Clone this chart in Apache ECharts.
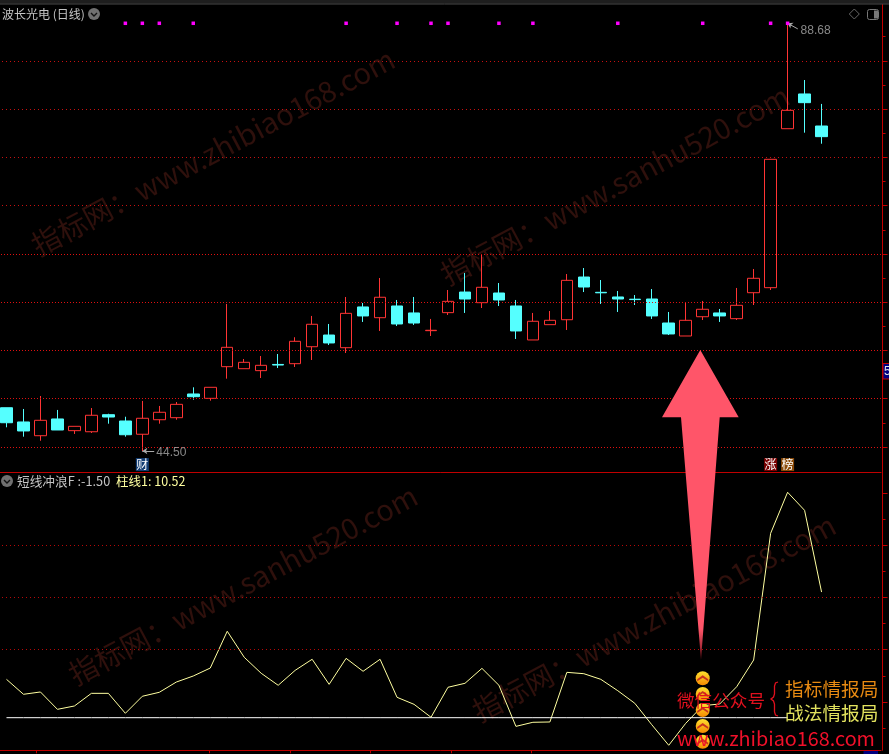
<!DOCTYPE html>
<html><head><meta charset="utf-8">
<style>html,body{margin:0;padding:0;background:#000}#c{width:889px;height:754px}</style>
<script src="https://cdn.jsdelivr.net/npm/echarts@6/dist/echarts.min.js"></script>
</head><body><div id="c"></div>
<script>
// [open, close, low, high]
const candles = [
[48.97,47.42,46.95,48.97],[47.50,46.57,45.98,48.84],[46.08,47.67,45.56,50.18],[47.81,46.67,46.67,48.74],
[46.60,47.05,46.26,47.05],[46.49,48.19,46.36,48.94],[48.25,48.01,47.32,48.35],[47.60,46.18,45.98,48.04],
[46.23,47.88,44.50,49.67],[47.73,48.50,47.32,49.15],[47.94,49.32,47.73,49.56],[50.39,50.11,49.80,51.08],
[49.94,51.08,49.70,51.08],[53.21,55.21,51.97,59.69],[53.00,53.66,53.00,54.00],[52.80,53.35,52.04,54.31],
[53.44,53.38,53.07,54.52],[53.52,55.83,53.18,56.25],[55.27,57.59,53.90,58.45],[56.48,55.66,55.45,57.62],
[55.17,58.72,54.62,60.41],[59.38,58.45,57.83,59.79],[58.27,60.38,56.90,62.37],[59.48,57.62,57.41,60.10],
[58.76,57.72,57.52,60.41],[56.93,56.97,56.38,58.14],[58.79,59.96,58.55,61.13],[60.92,60.20,58.76,62.89],
[59.82,61.41,59.27,64.75],[60.82,60.10,59.48,61.85],[59.48,56.90,56.07,60.10],[55.97,57.90,55.97,58.76],
[57.55,58.00,57.55,58.96],[58.06,62.13,57.00,62.78],[62.47,61.44,60.92,63.40],[60.89,60.84,59.69,62.16],
[60.41,60.20,58.86,61.03],[60.18,60.14,59.58,60.61],[60.20,58.45,58.14,61.23],[57.72,56.59,56.48,58.86],
[56.38,58.00,56.38,59.79],[58.37,59.14,58.03,60.00],[58.76,58.45,57.83,59.17],[58.17,59.55,58.03,61.34],
[60.85,62.34,59.58,63.30],[61.37,74.63,61.13,74.63],[77.79,79.69,77.79,88.68],[81.38,80.48,77.38,82.82],
[78.07,76.97,76.24,80.35]];
const categories = ['D1','D2','D3','D4','D5','D6','D7','D8','D9','D10','D11','D12','D13','D14','D15','D16','D17','D18','D19','D20','D21','D22','D23','D24','D25','D26','D27','D28','D29','D30','D31','D32','D33','D34','D35','D36','D37','D38','D39','D40','D41','D42','D43','D44','D45','D46','D47','D48','D49','D50','D51','D52'];
const surfLine = [2.17,0.74,0.96,-0.70,-0.38,0.83,0.83,-1.08,0.55,0.93,1.91,2.49,3.25,6.77,4.28,2.75,1.60,3.03,4.09,1.69,4.18,2.94,4.09,0.45,-0.22,-1.46,1.41,1.79,3.22,1.60,-2.33,-1.94,-1.91,2.84,2.71,2.17,1.08,-0.12,-2.17,-4.14,-2.04,-0.35,-0.19,1.46,4.02,16.14,20.07,18.34,10.52];
const baseLine = [-1.5,-1.5,-1.5,-1.5,-1.5,-1.5,-1.5,-1.5,-1.5,-1.5,-1.5,-1.5,-1.5,-1.5,-1.5,-1.5,-1.5,-1.5,-1.5,-1.5,-1.5,-1.5,-1.5,-1.5,-1.5,-1.5,-1.5,-1.5,-1.5,-1.5,-1.5,-1.5,-1.5,-1.5,-1.5,-1.5,-1.5,-1.5,-1.5,-1.5,-1.5,-1.5,-1.5,-1.5,-1.5,-1.5,-1.5];
const gridPrices = [84.73,79.77,74.82,69.86,64.80,59.84,54.88,49.92,44.86];
const minorPrices = [87.30,82.25,77.30,72.34,67.33,62.32,57.36,52.40,47.39];
const lowerGrid = [5.02,10,14.98];
const lowerMajor = [20,14.98,10,5.02,0];
const lowerMinor = [17.5,12.5,7.5,2.5,-2.5];
const markerIdx = [7,8,9,11,20,23,25,26,29,31,36,41,45,46];
const markerPrice = 88.68;
const coinLevels = [2.27,0.77,-0.77,-2.30,-3.80];
const coinIdx = 41;
const badges = [{i:8,t:'财',c:'#123c72'},{i:45,t:'涨',c:'#7a0000'},{i:46,t:'榜',c:'#8a4a08'}];
const badgeLevel = 43.1;
const bottomTicks = [2.24,12.43,17.2,21.95,26.68,31.4];
const priceMax = 90.62, priceMin = 42.30, oscMax = 21.98, oscMin = -4.62;
const high = [46.5,88.68], low = [8.5,44.50];

const RED='#ff3434', CYAN='#55ffff', AXIS='#c00000', DOT='#c81010';
const CJK='"Noto Sans CJK SC","Liberation Sans",sans-serif';
const WM='#2f100c';
const chart = echarts.init(document.getElementById('c'),null,{width:889,height:754});
function wm(t,x,y,rot){return {type:'text',z:-1,x:x,y:y,rotation:rot*Math.PI/180,style:{text:t,fill:WM,font:'29px '+CJK,textAlign:'center',textVerticalAlign:'middle'}};}
function tx(t,x,y,c,size,align,fam){return {type:'text',z:100,x:x,y:y,style:{text:t,fill:c,font:size+'px '+(fam||CJK),textAlign:align||'left',textVerticalAlign:'middle'}};}
function chev(x,y){return [
 {type:'circle',z:100,shape:{cx:x,cy:y,r:6},style:{fill:'#707070'}},
 {type:'polyline',z:101,shape:{points:[[x-3,y-1],[x,y+2],[x+3,y-1]]},style:{stroke:'#111',lineWidth:1.4,fill:null}}];}
const graphics=[
 {type:'rect',z:100,shape:{x:0,y:0,width:889,height:3.5},style:{fill:'#1e1e1e'}},
 {type:'line',z:100,shape:{x1:0,y1:4,x2:889,y2:4},style:{stroke:'#4a4a4a',lineWidth:1}},
 wm('指标网：www.zhibiao168.com',213,152,28),
 wm('指标网：www.sanhu520.com',615,185,28),
 wm('指标网：www.sanhu520.com',243,585,28),
 wm('指标网：www.zhibiao168.com',654,618,28),
 tx('波长光电 (日线)',2,14,'#c4c4c4',12),
 ...chev(94,14),
 tx('短线冲浪F :-1.50',17,481,'#c4c4c4',12.7),
 tx('柱线1: 10.52',116,481,'#ffffa0',12.5),
 ...chev(7,481),
 {type:'polygon',z:100,shape:{points:[[854.3,9],[859.3,14],[854.3,19],[849.3,14]]},style:{fill:null,stroke:'#666',lineWidth:1}},
 {type:'rect',z:100,shape:{x:867.5,y:9.5,width:11,height:10,r:2},style:{fill:null,stroke:'#777',lineWidth:1}},
 {type:'rect',z:100,shape:{x:874,y:10.5,width:4,height:8},style:{fill:'#777'}},
 {type:'rect',z:100,shape:{x:883,y:363.5,width:8,height:15.5},style:{fill:'#000080',stroke:'#c00000',lineWidth:1}},
 tx('5',884,371.5,'#e0e0e0',12,'left','"Liberation Sans"'),
 {type:'rect',z:100,shape:{x:863.5,y:751,width:14.5,height:4},style:{fill:'#000080'}},
 {type:'polygon',z:99,shape:{points:[[700.3,350],[738.7,417.3],[719.7,417.3],[701,660],[681,417.3],[662,417.3]]},
  style:{fill:{type:'linear',x:0,y:0,x2:0,y2:1,colorStops:[{offset:0,color:'#ff5569'},{offset:0.9,color:'#ff5569'},{offset:1,color:'#701018'}]}}},
 tx('微信公众号',677,700,'#e0101e',17.6),
 {type:'polyline',z:100,shape:{points:[[778,682],[775.5,683],[774.5,686],[774.5,694],[773.5,697],[771,699],[773.5,701],[774.5,704],[774.5,712],[775.5,715],[778,716]]},style:{stroke:'#e0101e',fill:null,lineWidth:1.3}},
 tx('指标情报局',785,689,'#e88a12',18.7),
 tx('战法情报局',785,713,'#e2e25e',18.7),
 tx('www.zhibiao168.com',677,738,'#f0102a',19.8,'left','"Noto Sans CJK SC"')
];
const noLabel={show:false};
const lineOff={onZero:false,lineStyle:{color:AXIS}};
chart.setOption({
 animation:false, backgroundColor:'#000',
 grid:[{left:-2,top:4.5,width:883,height:467.8,outerBoundsMode:'none'},{left:-2,top:472.3,width:883,height:278,outerBoundsMode:'none'}],
 xAxis:[
  {type:'category',gridIndex:0,data:categories,axisLine:lineOff,axisTick:{show:false},axisLabel:noLabel,splitLine:{show:false}},
  {type:'category',gridIndex:1,data:categories,axisLine:lineOff,axisTick:{show:false},axisLabel:noLabel,splitLine:{show:false}},
  {type:'value',gridIndex:1,min:0,max:52,position:'bottom',axisLine:{show:false,onZero:false},axisTick:{show:true,length:3,customValues:bottomTicks,lineStyle:{color:AXIS}},axisLabel:noLabel,splitLine:{show:false}},
  {type:'value',gridIndex:0,min:0,max:52,show:false,axisLine:{onZero:false},splitLine:{show:false}}
 ],
 yAxis:[
  {type:'value',gridIndex:0,min:priceMin,max:priceMax,position:'right',offset:1.5,axisLine:{show:true,onZero:false,lineStyle:{color:AXIS,width:1}},axisTick:{show:true,length:5,customValues:gridPrices,lineStyle:{color:AXIS}},axisLabel:noLabel,splitLine:{show:false}},
  {type:'value',gridIndex:0,min:priceMin,max:priceMax,position:'right',offset:1.5,axisLine:{show:false,onZero:false},axisTick:{show:true,length:3,customValues:minorPrices,lineStyle:{color:AXIS}},axisLabel:noLabel,splitLine:{show:false}},
  {type:'value',gridIndex:1,min:oscMin,max:oscMax,position:'right',offset:1.5,axisLine:{show:true,onZero:false,lineStyle:{color:AXIS,width:1}},axisTick:{show:true,length:5,customValues:lowerMajor,lineStyle:{color:AXIS}},axisLabel:noLabel,splitLine:{show:false}},
  {type:'value',gridIndex:1,min:oscMin,max:oscMax,position:'right',offset:1.5,axisLine:{show:false,onZero:false},axisTick:{show:true,length:3,customValues:lowerMinor,lineStyle:{color:AXIS}},axisLabel:noLabel,splitLine:{show:false}}
 ],
 series:[
  {type:'candlestick',xAxisIndex:0,yAxisIndex:0,data:candles,barWidth:12,
   itemStyle:{color:'#000',color0:CYAN,borderColor:RED,borderColor0:CYAN,borderWidth:1},
   markLine:{silent:true,symbol:'none',animation:false,label:noLabel,lineStyle:{color:DOT,type:[1,3],width:1},
    data:gridPrices.map(v=>({yAxis:v,lineStyle:v<66?{color:'#e01010',type:[1,2],width:1}:{color:DOT,type:[1,3],width:1}}))}},
  {type:'scatter',xAxisIndex:0,yAxisIndex:0,symbol:'rect',symbolSize:3.5,itemStyle:{color:'#ff00ff',opacity:1},z:5,data:markerIdx.map(i=>[i,markerPrice])},
  {type:'scatter',xAxisIndex:0,yAxisIndex:0,symbol:'rect',symbolSize:13,z:5,
   data:badges.map(b=>({value:[b.i,badgeLevel],itemStyle:{color:b.c,opacity:1},label:{show:true,position:'inside',formatter:b.t,color:'#fff',fontSize:12,fontFamily:CJK}}))},
  {type:'scatter',xAxisIndex:3,yAxisIndex:0,symbolSize:0,z:6,
   data:[
    {value:high,label:{show:true,position:'right',offset:[8,7],formatter:high[1].toFixed(2),color:'#aaa',fontSize:12,fontFamily:'Liberation Sans'}},
    {value:low,label:{show:true,position:'right',offset:[9,2],formatter:low[1].toFixed(2),color:'#aaa',fontSize:12,fontFamily:'Liberation Sans'}}],
   markLine:{silent:true,animation:false,symbol:['arrow','none'],symbolSize:5,label:noLabel,lineStyle:{color:'#aaa',type:'solid',width:1},
    data:[[{coord:high},{coord:[47.1,88.1]}],[{coord:low},{coord:[9.2,44.5]}]]}},
  {type:'line',xAxisIndex:1,yAxisIndex:2,data:surfLine,symbol:'none',lineStyle:{color:'#ffffa0',width:1},z:3,
   markLine:{silent:true,symbol:'none',animation:false,label:noLabel,lineStyle:{color:'#b80808',type:[1,3],width:1},data:lowerGrid.map(v=>({yAxis:v}))}},
  {type:'line',xAxisIndex:1,yAxisIndex:2,data:baseLine,symbol:'none',lineStyle:{color:'#fff',width:1},z:3},
  {type:'scatter',xAxisIndex:1,yAxisIndex:2,symbol:'circle',symbolSize:14,z:8,
   itemStyle:{opacity:1,color:{type:'linear',x:0,y:0,x2:0,y2:1,colorStops:[{offset:0,color:'#ffe030'},{offset:1,color:'#f58a00'}]}},
   data:coinLevels.map(v=>[coinIdx,v])},
  {type:'scatter',xAxisIndex:1,yAxisIndex:2,symbol:'path://M0 10L10 0L20 10L20 15L10 6L0 15Z',symbolSize:[11,6],z:9,
   itemStyle:{color:'#c8321e',opacity:1},data:coinLevels.map(v=>[coinIdx,v])}
 ],
 graphic:{elements:graphics}
});
</script></body></html>
